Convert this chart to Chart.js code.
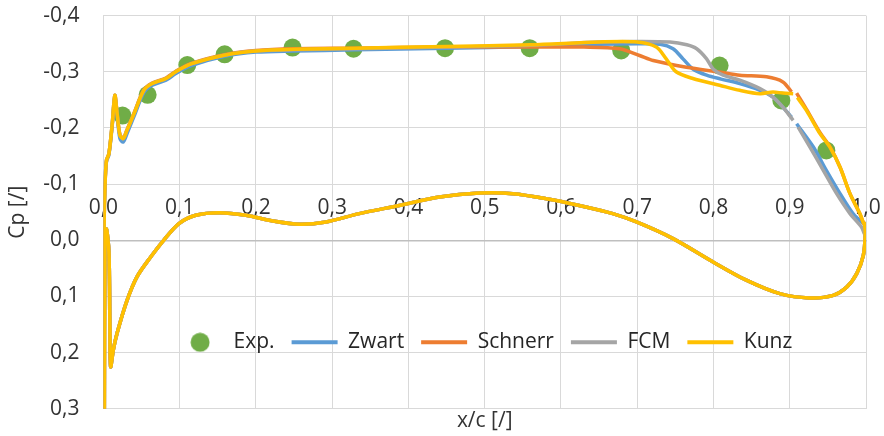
<!DOCTYPE html>
<html>
<head>
<meta charset="utf-8">
<script src="https://cdn.jsdelivr.net/npm/chart.js@4.4.1/dist/chart.umd.min.js"></script>
<style>html,body{margin:0;padding:0;background:#fff}</style>
</head>
<body>
<canvas id="cpChart" width="884" height="436"></canvas>
<script>
// experimental points
const expX  = [0.025, 0.058, 0.11, 0.159, 0.248, 0.328, 0.448, 0.559, 0.679, 0.808, 0.889, 0.948];
const expCp = [-0.222, -0.259, -0.312, -0.331, -0.343, -0.341, -0.342, -0.342, -0.338, -0.311, -0.249, -0.16];

// suction side, from x~0.905 back to the leading edge
const zwartX  = [0.9025, 0.891, 0.878, 0.861, 0.8345, 0.81, 0.791, 0.773, 0.76, 0.747, 0.73, 0.70, 0.65, 0.56, 0.45, 0.33, 0.25, 0.2,
                 0.16, 0.115, 0.095, 0.082, 0.064, 0.053, 0.04, 0.031, 0.026, 0.0217, 0.018, 0.015, 0.0116, 0.0072, 0.004, 0.002, 0.001];
const zwartCp = [-0.219, -0.237, -0.255, -0.267, -0.279, -0.287, -0.294, -0.305, -0.323, -0.341, -0.349, -0.350, -0.349, -0.345, -0.342, -0.339, -0.337, -0.335,
                 -0.328, -0.311, -0.297, -0.285, -0.276, -0.263, -0.22, -0.19, -0.175, -0.181, -0.222, -0.254, -0.205, -0.152, -0.14, -0.10, -0.03];

const schnerrX  = [0.9024, 0.891, 0.8696, 0.8345, 0.808, 0.7645, 0.721, 0.703, 0.677, 0.63, 0.56, 0.45, 0.33, 0.25, 0.2,
                   0.16, 0.115, 0.095, 0.082, 0.064, 0.053, 0.04, 0.031, 0.026, 0.0217, 0.018, 0.015, 0.0116, 0.0072, 0.004, 0.002, 0.001];
const schnerrCp = [-0.264, -0.282, -0.291, -0.294, -0.2995, -0.308, -0.32, -0.329, -0.341, -0.344, -0.344, -0.344, -0.342, -0.341, -0.338,
                   -0.331, -0.315, -0.301, -0.289, -0.28, -0.268, -0.226, -0.197, -0.182, -0.188, -0.226, -0.258, -0.207, -0.154, -0.142, -0.095, -0.03];

const fcmX  = [0.9045, 0.891, 0.878, 0.861, 0.8345, 0.8126, 0.7995, 0.791, 0.778, 0.765, 0.743, 0.70, 0.65, 0.56, 0.45, 0.33, 0.25, 0.2,
               0.16, 0.115, 0.095, 0.082, 0.064, 0.053, 0.04, 0.031, 0.026, 0.0217, 0.018, 0.015, 0.0116, 0.0072, 0.004, 0.002, 0.001];
const fcmCp = [-0.2135, -0.237, -0.255, -0.27, -0.285, -0.294, -0.305, -0.323, -0.341, -0.348, -0.353, -0.354, -0.353, -0.347, -0.344, -0.341, -0.339, -0.337,
               -0.33, -0.314, -0.30, -0.288, -0.279, -0.267, -0.225, -0.196, -0.181, -0.187, -0.225, -0.258, -0.2075, -0.154, -0.142, -0.095, -0.03];

const kunzX  = [0.9045, 0.891, 0.878, 0.861, 0.8345, 0.808, 0.773, 0.751, 0.738, 0.725, 0.70, 0.65, 0.56, 0.45, 0.33, 0.25, 0.2,
                0.16, 0.115, 0.095, 0.082, 0.064, 0.053, 0.04, 0.031, 0.026, 0.0217, 0.018, 0.015, 0.0116, 0.0072, 0.004, 0.002, 0.001];
const kunzCp = [-0.261, -0.262, -0.264, -0.261, -0.267, -0.276, -0.288, -0.30, -0.323, -0.344, -0.353, -0.353, -0.348, -0.345, -0.342, -0.34, -0.337,
                -0.33, -0.314, -0.30, -0.288, -0.279, -0.267, -0.225, -0.196, -0.181, -0.187, -0.225, -0.258, -0.2075, -0.154, -0.142, -0.095, -0.03];

// stagnation point and pressure side (the four models overlap here)
const lowerX  = [0.0008, 0.0012, 0.002, 0.004, 0.0072, 0.0085, 0.0095, 0.013, 0.018, 0.031, 0.044, 0.062, 0.079, 0.099, 0.121, 0.152, 0.187,
                 0.222, 0.257, 0.292, 0.3355, 0.388, 0.4406, 0.493, 0.537, 0.581, 0.624, 0.668, 0.699, 0.747, 0.7995, 0.843, 0.887, 0.926,
                 0.957, 0.975, 0.988, 0.9965, 0.999, 0.998];
const lowerCp = [0.34, 0.34, 0.0, -0.02, 0.02, 0.15, 0.225, 0.195, 0.165, 0.107, 0.065, 0.0297, 0.0, -0.0297, -0.0445, -0.049, -0.0445,
                 -0.0344, -0.0285, -0.0326, -0.0475, -0.062, -0.077, -0.084, -0.083, -0.074, -0.062, -0.0475, -0.0326, -0.003, 0.0386, 0.071, 0.095, 0.1026,
                 0.098, 0.083, 0.059, 0.027, -0.01, -0.03];

// suction side near the trailing edge, from x=1 back to x~0.91
const zwartTeX  = [0.9965, 0.983, 0.966, 0.948, 0.931, 0.909];
const zwartTeCp = [-0.03, -0.0475, -0.083, -0.1245, -0.166, -0.2075];
const schnerrTeX  = [0.997, 0.992, 0.979, 0.966, 0.953, 0.94, 0.922, 0.909];
const schnerrTeCp = [-0.03, -0.047, -0.083, -0.13, -0.166, -0.191, -0.233, -0.262];
const fcmTeX  = [0.998, 0.994, 0.979, 0.9615, 0.944, 0.9265, 0.911];
const fcmTeCp = [-0.012, -0.0237, -0.0475, -0.083, -0.1245, -0.166, -0.2016];
const kunzTeX  = [0.997, 0.992, 0.979, 0.966, 0.9527, 0.9396, 0.922, 0.91];
const kunzTeCp = [-0.03, -0.0475, -0.083, -0.13, -0.166, -0.19, -0.231, -0.254];

const xTicks = [0, 0.1, 0.2, 0.3, 0.4, 0.5, 0.6, 0.7, 0.8, 0.9, 1.0];

function pts(xs, ys) {
  return xs.map((x, i) => ({x: x, y: ys[i]}));
}
function loop(ux, uy, tx, ty) {
  return pts(ux, uy).concat(pts(lowerX, lowerCp), pts(tx, ty));
}
function fmt(v) {
  if (Math.abs(v) < 1e-9) v = 0;
  return v.toFixed(1).replace('.', ',');
}

// green dot used for the Exp. legend entry
const dot = document.createElement('canvas');
dot.width = 20; dot.height = 20;
const dctx = dot.getContext('2d');
dctx.fillStyle = '#70AD47';
dctx.beginPath(); dctx.arc(10, 10, 9.5, 0, Math.PI * 2); dctx.fill();

// legend sits inside the plot area, like the Excel original
const legendInPlot = {
  id: 'legendInPlot',
  beforeUpdate(chart) {
    const lg = chart.legend;
    if (lg && !lg._inPlot) {
      const fit = lg.fit;
      lg.fit = function () { fit.call(this); this.height = 0; };
      lg._inPlot = true;
    }
  },
  afterLayout(chart) {
    const lg = chart.legend;
    const a = chart.chartArea;
    lg.left = a.left; lg.right = a.right; lg.width = a.right - a.left;
    lg.top = a.bottom - 94; lg.bottom = lg.top + 44; lg.height = 44;
  }
};

Chart.defaults.font.family = "'Open Sans', sans-serif";
Chart.defaults.font.size = 21;
Chart.defaults.color = '#333333';

const lineStyle = {showLine: true, pointRadius: 0, pointHoverRadius: 0, borderWidth: 3.5, tension: 0.3, fill: false};

new Chart(document.getElementById('cpChart'), {
  type: 'scatter',
  data: {
    datasets: [
      {label: 'Exp.', data: pts(expX, expCp), showLine: false, pointRadius: 9, pointHoverRadius: 9,
       backgroundColor: '#70AD47', borderWidth: 0, order: 4},
      Object.assign({label: 'Zwart', data: loop(zwartX, zwartCp, zwartTeX, zwartTeCp), borderColor: '#5B9BD5', backgroundColor: '#5B9BD5', order: 3}, lineStyle),
      Object.assign({label: 'Schnerr', data: loop(schnerrX, schnerrCp, schnerrTeX, schnerrTeCp), borderColor: '#ED7D31', backgroundColor: '#ED7D31', order: 2}, lineStyle),
      Object.assign({label: 'FCM', data: loop(fcmX, fcmCp, fcmTeX, fcmTeCp), borderColor: '#A5A5A5', backgroundColor: '#A5A5A5', order: 1}, lineStyle),
      Object.assign({label: 'Kunz', data: loop(kunzX, kunzCp, kunzTeX, kunzTeCp), borderColor: '#FFC000', backgroundColor: '#FFC000', order: 0}, lineStyle)
    ]
  },
  options: {
    responsive: false,
    animation: false,
    layout: {padding: {left: 0, right: 18, top: 15, bottom: 0}},
    scales: {
      x: {
        type: 'linear', position: 'bottom', min: 0, max: 1,
        ticks: {display: false, stepSize: 0.1},
        afterBuildTicks: s => { s.ticks = xTicks.map(v => ({value: v})); },
        grid: {color: '#d9d9d9', lineWidth: 1, drawTicks: false, z: -1},
        border: {color: '#d9d9d9'},
        title: {display: true, text: 'x/c [/]', color: '#333333', padding: {top: 0, bottom: 2}}
      },
      x2: {
        type: 'linear', axis: 'x', position: {y: 0}, min: 0, max: 1,
        afterBuildTicks: s => { s.ticks = xTicks.map(v => ({value: v})); },
        ticks: {padding: -45, callback: fmt, color: '#333333', maxRotation: 0},
        grid: {display: false, drawTicks: false},
        border: {display: true, color: '#bfbfbf', width: 1.5}
      },
      y: {
        type: 'linear', reverse: true, min: -0.4, max: 0.3,
        ticks: {stepSize: 0.1, padding: 3, callback: fmt, color: '#333333'},
        grid: {color: '#d9d9d9', lineWidth: 1, drawTicks: true, tickLength: 21, tickColor: 'rgba(0,0,0,0)', z: -1},
        border: {color: '#d9d9d9'},
        title: {display: true, text: 'Cp [/]', color: '#333333', padding: {top: 5, bottom: 10}}
      }
    },
    plugins: {
      tooltip: {enabled: false},
      legend: {
        display: true,
        position: 'bottom',
        fullSize: false,
        labels: {
          usePointStyle: true,
          pointStyleWidth: 46,
          padding: 17,
          color: '#262626',
          font: {size: 21},
          sort: (a, b) => a.datasetIndex - b.datasetIndex,
          generateLabels(chart) {
            const items = Chart.defaults.plugins.legend.labels.generateLabels(chart);
            items.forEach(item => {
              const ds = chart.data.datasets[item.datasetIndex];
              if (ds.showLine === false) {
                item.pointStyle = dot;
              } else {
                item.pointStyle = 'line';
                item.lineWidth = 4;
                item.strokeStyle = ds.borderColor;
              }
            });
            return items;
          }
        }
      }
    }
  },
  plugins: [legendInPlot]
});
</script>
</body>
</html>
